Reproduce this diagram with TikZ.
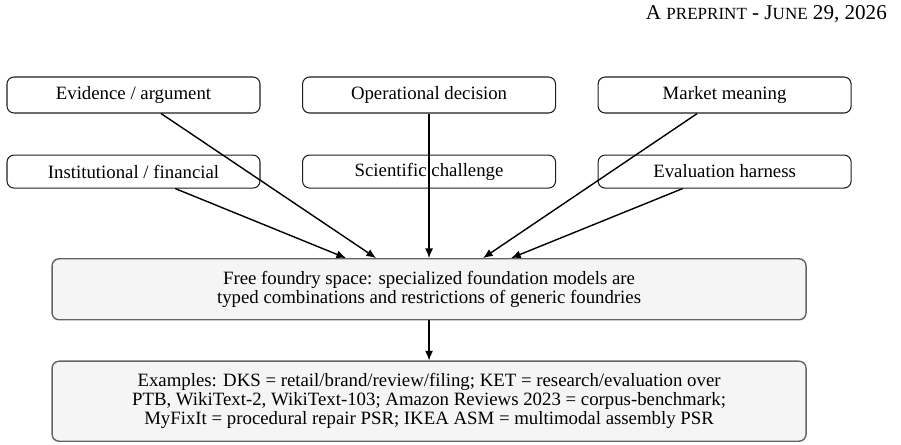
\documentclass[tikz,border=0pt]{standalone}
\usepackage{fontspec}
\setmainfont{Liberation Serif}
\usepackage{tikz}
\usetikzlibrary{shapes.geometric, arrows.meta, positioning}
\definecolor{hubfill}{RGB}{245, 245, 245}
\definecolor{hubdraw}{RGB}{100, 100, 100}
\definecolor{boxdraw}{RGB}{30, 30, 30}
\newcommand{\smallcap}[1]{{\fontsize{9.7}{10}\selectfont #1}}

\begin{document}
\begin{tikzpicture}[node distance=0.82cm, font=\fontsize{10.7}{10.7}\selectfont]
  \tikzstyle{source} = [rectangle, rounded corners=4pt, minimum width=5.06cm, minimum height=0.72cm, text centered, draw=boxdraw, line width=0.6pt, fill=white]
  \tikzstyle{hub} = [rectangle, rounded corners=4pt, minimum width=15.08cm, text centered, align=center, draw=hubdraw, line width=0.8pt, fill=hubfill]
  \tikzstyle{arrow} = [line width=0.8pt,-{Latex[length=5.5pt,width=4.6pt]}]

  \useasboundingbox (0,0) rectangle (18.02,-8.88);
  \node (header) [anchor=base east, font=\fontsize{12}{14}\selectfont] at (17.86,-0.38) {A \smallcap{PREPRINT} - J\smallcap{UNE} 29, 2026};

  % sources, two rows
  \node (evidence) [source] at (2.67,-1.9) {Evidence / argument};
  \node (operational) [source, right=0.83cm of evidence] {Operational decision};
  \node (market) [source, right=0.83cm of operational] {Market meaning};
  \node (institutional) [source, minimum height=0.66cm, below=of evidence] {Institutional / financial};
  \node (scientific) [source, minimum height=0.66cm, below=of operational] {Scientific challenge};
  \node (evaluation) [source, minimum height=0.66cm, below=of market] {Evaluation harness};

  \node (foundry) [hub, minimum height=1.22cm, below=1.39cm of scientific] {Free foundry space: specialized foundation models are\\ typed combinations and restrictions of generic foundries};
  \node (examples) [hub, minimum height=1.6cm, below=0.8cm of foundry] {Examples: DKS = retail/brand/review/filing; KET = research/evaluation over\\ PTB, WikiText-2, WikiText-103; Amazon Reviews 2023 = corpus-benchmark;\\ MyFixIt = procedural repair PSR; IKEA ASM = multimodal assembly PSR};

  \draw [arrow] (evidence) -- ([xshift=-1.06cm]foundry.north);
  \draw [arrow] (institutional) -- ([xshift=-1.66cm]foundry.north);
  \draw [arrow] (operational) -- (foundry.north);
  \draw [arrow] (market) -- ([xshift=1.08cm]foundry.north);
  \draw [arrow] (evaluation) -- ([xshift=1.64cm]foundry.north);
  \draw [arrow] (foundry) -- (examples);
\end{tikzpicture}
\end{document}
